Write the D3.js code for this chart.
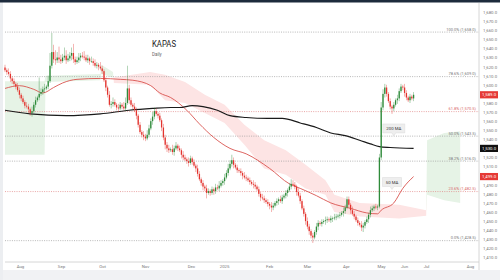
<!DOCTYPE html>
<html><head><meta charset="utf-8">
<script src="https://cdn.jsdelivr.net/npm/d3@7"></script>
<style>body{margin:0;background:#fff}svg{display:block;font-family:Roboto,"Open Sans",sans-serif}</style>
</head><body><svg id="c" width="500" height="280"></svg>
<script>
// ---------- DATA ----------
const closes = [
1616,1614,1612,1607,1604,1601,1598,1594,1589,1585,
1581,1577,1576,1573,1569,1571,1578,1583,1586,1590,
1592,1595,1596,1598,1604,1621,1636,1628,1627,1630,
1628,1626,1630,1632,1627,1629,1632,1635,1628,1625,
1627,1630,1632,1631,1630,1627,1629,1626,1626,1624,
1621,1622,1620,1618,1615,1605,1597,1589,1578,1579,
1581,1578,1575,1574,1578,1576,1574,1580,1596,1583,
1578,1576,1572,1566,1556,1548,1545,1543,1541,1545,
1552,1560,1565,1571,1568,1566,1561,1553,1542,1534,
1530,1528,1529,1526,1530,1533,1530,1528,1523,1520,
1518,1516,1514,1519,1515,1511,1508,1502,1496,1492,
1488,1486,1481,1483,1481,1485,1483,1487,1486,1489,
1492,1494,1498,1503,1508,1513,1517,1512,1509,1506,
1505,1503,1500,1498,1497,1495,1493,1491,1490,1488,
1485,1480,1476,1475,1473,1471,1469,1467,1465,1467,
1470,1472,1474,1472,1476,1478,1481,1484,1488,1491,
1490,1488,1482,1478,1472,1464,1458,1450,1444,1439,
1434,1432,1438,1444,1448,1447,1449,1450,1451,1452,
1451,1453,1453,1454,1455,1456,1457,1459,1461,1465,
1474,1468,1462,1458,1455,1451,1448,1446,1443,1445,
1449,1452,1457,1462,1464,1466,1465,1466,1520,1575,
1590,1597,1590,1582,1576,1574,1578,1583,1585,1593,
1598,1597,1591,1586,1583,1587,1585,1589];
const firstOpen = 1619;
const wickUp = [
3,2,4,3,2,3,2,4,3,2, 3,2,4,3,2,5,3,4,2,18, 4,3,5,2,6,14,21,8,10,6, 12,5,4,9,6,5,4,6,10,3,
4,5,3,4,6,3,4,2,5,3, 4,3,2,5,3,2,3,2,4,3, 5,3,2,4,3,2,5,6,25,4, 3,2,4,3,2,3,2,4,3,5,
4,3,5,4,3,2,3,2,4,3, 3,4,2,5,3,4,2,3,2,4, 3,2,4,3,2,3,2,4,3,2, 3,2,4,3,2,3,2,4,3,5,
3,2,4,3,5,4,6,3,2,3, 2,3,2,4,3,2,3,2,4,3, 2,3,2,4,3,2,3,2,4,3, 2,3,2,4,3,2,3,2,4,5,
4,3,2,4,3,2,3,2,4,3, 2,3,2,4,3,2,3,2,4,3, 2,3,2,4,3,2,3,2,4,3, 3,3,2,4,3,2,3,2,4,3,
2,3,2,4,3,2,3,2,4,6, 5,4,3,2,3,2,3,2,4,3, 3,2,4,3,2,3,2,3];
const wickDn = [
2,3,2,4,3,2,3,2,4,3, 2,3,2,4,3,4,2,3,2,3, 2,3,4,2,3,2,3,4,5,3, 4,3,2,3,4,2,3,5,4,3,
2,3,4,2,3,2,3,4,2,3, 2,3,4,2,3,2,4,3,2,4, 3,2,3,4,2,3,2,3,2,4, 2,3,2,4,3,2,3,4,3,2,
3,2,4,3,2,3,2,4,3,5, 4,3,2,3,4,2,3,2,4,3, 2,3,4,2,3,2,4,3,2,3, 4,3,6,2,3,2,4,3,2,3,
2,3,4,2,3,2,3,4,2,3, 2,3,4,2,3,2,3,2,4,3, 2,3,4,2,3,2,3,4,5,3, 2,3,4,2,3,2,3,4,2,3,
2,3,4,2,3,2,3,4,3,4, 3,6,2,3,4,2,3,2,4,3, 2,3,4,2,3,2,3,2,4,3, 2,3,4,2,3,2,3,2,4,5,
3,2,4,3,2,3,2,3,2,3, 3,4,3,2,3,6,3,2,4,3, 2,3,4,3,2,3,2,3];

const ma200Idx = [0,14,34,53,69,82,92,97,104,110,118,125,134,146,154,164,173,181,189,197,203,208,214,227];
const ma200Val = [1572,1568,1566,1568,1572,1574,1575,1575,1577,1576,1572,1566,1564,1563,1563,1558,1553,1547,1544,1539,1535,1532,1531,1530];
const ma50Idx = [0,8,16,21,27,32,40,53,64,71,81,86,92,101,108,116,125,134,147,158,164,173,181,192,201,207,209,216,221,227];
const ma50Val = [1596,1599,1595,1591,1597,1602,1606,1607,1606,1605,1599,1591,1586,1572,1557,1542,1530,1524,1508,1491,1486,1478,1470,1464,1459,1458,1462,1470,1486,1499];

// Ichimoku spans (A, B) read at sample positions
const cloudIdx = [0,22,22.5,53,53.5,60,60.5,80.6,88.9,100,111,122,133,144,156,167,178,183,197,219,234,234.5,244,253];
const spanA    = [1604,1604,1610,1612,1622,1614,1602,1600,1583,1580,1569,1558,1534,1508,1501,1486,1479,1460,1455,1453,1456,1539,1547,1549];
const spanB    = [1523,1523,1603,1605,1612,1608,1608,1614,1611,1603,1589,1578,1556,1539,1528,1512,1495,1479,1470,1468,1462,1479,1473,1470];

const fibPct = ["100.0%","78.6%","61.8%","50.0%","38.2%","23.6%","0.0%"];
const fibVal = [1658,1609,1570.5,1543.5,1516,1482.5,1428.5];
const fibRed = [false,false,true,false,false,true,false];

const yTickVals = [1410,1420,1430,1440,1450,1460,1470,1480,1490,1500,1510,1520,1530,1540,1550,1560,1570,1580,1590,1600,1610,1620,1630,1640,1650,1660,1670,1680];
const monthLabels = ["Aug","Sep","Oct","Nov","Dec","2025","Feb","Mar","Apr","May","Jun","Jul","Aug"];
const monthIdx = [8.3,31.1,53.9,77.8,103.3,121.7,146.7,167.8,189.4,208.9,221.7,233.9,258.3];

const priceTags = [{v:1589,fill:"#e53935"},{v:1530,fill:"#111"},{v:1499,fill:"#e53935"}];
const annText = ["200 MA","50 MA"];
const annIdx = [216,215];
const annVal = [1552,1493];

// ---------- CHART ----------
const svg = d3.select("#c");
const W = 500, H = 280;
const x = d3.scaleLinear().domain([0,263]).range([5,478.4]);
const y = d3.scaleLinear().domain([1405,1690]).range([262,3]);
const plotL = 5, plotR = 479, plotT = 3, plotB = 262;

svg.append("rect").attr("width",W).attr("height",H).attr("fill","#fff");
svg.append("rect").attr("x",0).attr("y",270).attr("width",W).attr("height",10).attr("fill","#f1f2f4");
svg.append("rect").attr("x",0).attr("y",0).attr("width",3).attr("height",H).attr("fill","#eceef1");
svg.append("rect").attr("x",0).attr("y",0).attr("width",W).attr("height",2.5).attr("fill","#1d2b3c");

const defs = svg.append("defs");
defs.append("clipPath").attr("id","plot").append("rect")
  .attr("x",plotL).attr("y",plotT).attr("width",plotR-plotL).attr("height",plotB-plotT);

// cloud
const cd = cloudIdx.map((d,i)=>({i:d,a:spanA[i],b:spanB[i]}));
const aBelow = d3.area().x(d=>x(d.i)).y0(d=>y(d.a)).y1(plotB);
const bBelow = d3.area().x(d=>x(d.i)).y0(d=>y(d.b)).y1(plotB);
defs.append("clipPath").attr("id","belowA").append("path").attr("d",aBelow(cd));
defs.append("clipPath").attr("id","belowB").append("path").attr("d",bBelow(cd));
const aboveB = d3.area().x(d=>x(d.i)).y0(0).y1(d=>y(d.b));
const aboveA = d3.area().x(d=>x(d.i)).y0(0).y1(d=>y(d.a));
const cg = svg.append("g").attr("clip-path","url(#plot)");
cg.append("path").attr("d",aboveB(cd)).attr("fill","#e6f3e6").attr("clip-path","url(#belowA)");
cg.append("path").attr("d",aboveA(cd)).attr("fill","#fde4e4").attr("clip-path","url(#belowB)");

// fib lines
const fg = svg.append("g");
fibVal.forEach((v,k)=>{
  fg.append("line").attr("x1",plotL).attr("x2",plotR).attr("y1",y(v)).attr("y2",y(v))
    .attr("stroke",fibRed[k]?"#e08080":"#9a9a9a").attr("stroke-width",0.7).attr("stroke-dasharray","1,1.3");
  fg.append("text").attr("x",476).attr("y",y(v)-1.5).attr("text-anchor","end")
    .attr("font-size",4).attr("fill",fibRed[k]?"#d86a6a":"#777")
    .text(`${fibPct[k]} (${d3.format(",.1f")(v)})`);
});

// MAs
const line = d3.line().x(d=>x(d[0])).y(d=>y(d[1])).curve(d3.curveMonotoneX);
svg.append("path").attr("d",line(ma50Idx.map((d,i)=>[d,ma50Val[i]])))
  .attr("fill","none").attr("stroke","#d9534f").attr("stroke-width",0.9);
svg.append("path").attr("d",line(ma200Idx.map((d,i)=>[d,ma200Val[i]])))
  .attr("fill","none").attr("stroke","#1a1a1a").attr("stroke-width",1.2);

// candles
const candles = closes.map((c,i)=>{
  const o = i===0?firstOpen:closes[i-1];
  return {i,o,c,h:Math.max(o,c)+wickUp[i],l:Math.min(o,c)-wickDn[i]};
});
const G = "#2e8b3a", R = "#e3342f";
const kg = svg.append("g");
kg.selectAll("line").data(candles).join("line")
  .attr("x1",d=>x(d.i)).attr("x2",d=>x(d.i)).attr("y1",d=>y(d.h)).attr("y2",d=>y(d.l))
  .attr("stroke",d=>d.c>=d.o?G:R).attr("stroke-width",0.5).attr("opacity",0.8);
kg.selectAll("rect").data(candles).join("rect")
  .attr("x",d=>x(d.i)-0.65).attr("width",1.3)
  .attr("y",d=>y(Math.max(d.o,d.c))).attr("height",d=>Math.max(0.6,Math.abs(y(d.o)-y(d.c))))
  .attr("fill",d=>d.c>=d.o?G:R);

// MA annotation boxes
annText.forEach((t,k)=>{
  const cx = x(annIdx[k]), cy = y(annVal[k]);
  const w = t.length*3.0+4, h = 9;
  const g = svg.append("g");
  g.append("path").attr("d",`M${cx-w/2},${cy-h/2} h${w} v${h} h${-w/2+2} l-2,3 l-2,-3 h${-w/2+2} z`)
    .attr("fill","#eeeeee").attr("stroke","#d5d5d5").attr("stroke-width",0.4);
  g.append("text").attr("x",cx).attr("y",cy+1.5).attr("text-anchor","middle")
    .attr("font-size",4.3).attr("fill","#333").text(t);
});

// title
svg.append("text").attr("x",152).attr("y",47).attr("font-size",9.5).attr("fill","#222")
  .attr("textLength",24).attr("lengthAdjust","spacingAndGlyphs").text("KAPAS");
svg.append("text").attr("x",152).attr("y",56).attr("font-size",4.5).attr("fill","#666").text("Daily");

// axes
svg.append("line").attr("x1",plotL).attr("x2",plotR).attr("y1",plotB).attr("y2",plotB).attr("stroke","#ccc").attr("stroke-width",0.8);
svg.append("line").attr("x1",plotR).attr("x2",plotR).attr("y1",plotT).attr("y2",270).attr("stroke","#ccc").attr("stroke-width",0.8);
const yAxis = d3.axisRight(y).tickValues(yTickVals).tickSize(0).tickPadding(4).tickFormat(d3.format(",.1f"));
const ya = svg.append("g").attr("transform",`translate(${plotR},0)`).call(yAxis);
ya.select(".domain").remove();
ya.selectAll("text").attr("font-size",4.3).attr("fill","#777").attr("font-family","Roboto,sans-serif");
const xAxis = d3.axisBottom(x).tickValues(monthIdx).tickSize(0).tickPadding(2.5).tickFormat((d,i)=>monthLabels[i]);
const xa = svg.append("g").attr("transform",`translate(0,${plotB})`).call(xAxis);
xa.select(".domain").remove();
xa.selectAll("text").attr("font-size",4.3).attr("fill","#777").attr("font-family","Roboto,sans-serif");

priceTags.forEach(p=>{
  svg.append("rect").attr("x",480).attr("y",y(p.v)-3.6).attr("width",18).attr("height",7.2).attr("fill",p.fill);
  svg.append("text").attr("x",482).attr("y",y(p.v)+1.5).attr("font-size",4.3).attr("fill","#fff").text(d3.format(",.1f")(p.v));
});
</script></body></html>
